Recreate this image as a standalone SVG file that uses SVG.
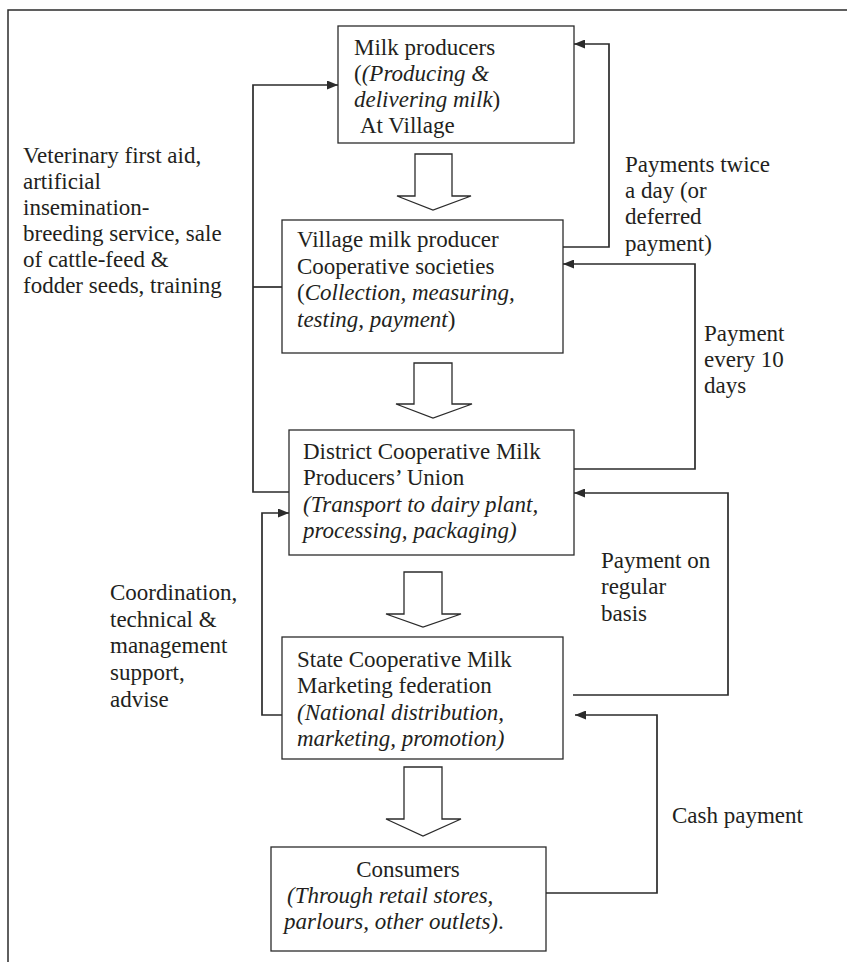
<svg xmlns="http://www.w3.org/2000/svg" width="847" height="962" viewBox="0 0 847 962" font-family="'Liberation Serif', 'DejaVu Serif', serif">
<defs>
<style>
text{font-family:'Liberation Serif','DejaVu Serif',serif;font-size:23px;fill:#231f20}
.it{font-style:italic}
.box{fill:#fff;stroke:#2b2b2b;stroke-width:1.3}
.big{fill:#fff;stroke:#2b2b2b;stroke-width:1.3;stroke-linejoin:miter}
.con{fill:none;stroke:#2b2b2b;stroke-width:1.7}
</style>
<marker id="ah" viewBox="0 0 11 9" refX="11" refY="4.5" markerWidth="11" markerHeight="9" orient="auto" markerUnits="userSpaceOnUse">
<path d="M0,0 L11,4.5 L0,9 Z" fill="#2b2b2b"/>
</marker>
</defs>
<rect width="847" height="962" fill="#fff"/>
<path d="M8,962 V10 H847" fill="none" stroke="#2b2b2b" stroke-width="1.5"/>

<g id="connectors">
<path class="con" d="M289,492 H253 V85 H338" marker-end="url(#ah)"/>
<path class="con" d="M253,287 H282"/>
<path class="con" d="M282,715 H262 V513 H289" marker-end="url(#ah)"/>
<path class="con" d="M563,247 H609 V44 H574" marker-end="url(#ah)"/>
<path class="con" d="M574,469 H695 V264 H563" marker-end="url(#ah)"/>
<path class="con" d="M573,695 H728 V493 H574" marker-end="url(#ah)"/>
<path class="con" d="M546,893 H657 V715 H575" marker-end="url(#ah)"/>
<path class="big" d="M415,154 H452 V196 H471 L433,210 L397,196 H415 Z"/>
<path class="big" d="M414,363 H452 V404 H472 L433,418 L396,404 H414 Z"/>
<path class="big" d="M404,572 H442 V614 H461 L423,627 L386,614 H404 Z"/>
<path class="big" d="M404,767 H442 V819 H461 L423,836 L386,819 H404 Z"/>
</g>

<g id="milk-producers">
<rect class="box" x="338" y="26" width="236" height="117"/>
<text x="354" y="55">Milk producers</text>
<text x="354" y="81">(<tspan class="it">(Producing &amp;</tspan></text>
<text x="354" y="107"><tspan class="it">delivering milk</tspan>)</text>
<text x="360" y="133">At Village</text>
</g>

<g id="village-society">
<rect class="box" x="282" y="220" width="281" height="133"/>
<text x="297" y="247">Village milk producer</text>
<text x="297" y="273.5">Cooperative societies</text>
<text x="297" y="300">(<tspan class="it">Collection, measuring,</tspan></text>
<text x="297" y="326.5"><tspan class="it">testing, payment</tspan>)</text>
</g>

<g id="district-union">
<rect class="box" x="289" y="430" width="285" height="125"/>
<text x="303" y="459">District Cooperative Milk</text>
<text x="303" y="485">Producers’ Union</text>
<text class="it" x="303" y="512">(Transport to dairy plant,</text>
<text class="it" x="303" y="538">processing, packaging)</text>
</g>

<g id="state-federation">
<rect class="box" x="282" y="637" width="281" height="122"/>
<text x="297" y="667">State Cooperative Milk</text>
<text x="297" y="693">Marketing federation</text>
<text class="it" x="297" y="720">(National distribution,</text>
<text class="it" x="297" y="746">marketing, promotion)</text>
</g>

<g id="consumers">
<rect class="box" x="271" y="847" width="275" height="104"/>
<text x="408" y="877" text-anchor="middle">Consumers</text>
<text class="it" x="287" y="903">(Through retail stores,</text>
<text x="284" y="929"><tspan class="it">parlours, other outlets)</tspan>.</text>
</g>

<g id="labels">
<text x="23" y="163">Veterinary first aid,</text>
<text x="23" y="188.5">artificial</text>
<text x="23" y="214.5">insemination-</text>
<text x="23" y="241">breeding service, sale</text>
<text x="23" y="267">of cattle-feed &amp;</text>
<text x="23" y="293">fodder seeds, training</text>
<text x="110" y="600">Coordination,</text>
<text x="110" y="626.5">technical &amp;</text>
<text x="110" y="653">management</text>
<text x="110" y="680">support,</text>
<text x="110" y="706.5">advise</text>
<text x="625" y="172">Payments twice</text>
<text x="625" y="198">a day (or</text>
<text x="625" y="224">deferred</text>
<text x="625" y="250.5">payment)</text>
<text x="704" y="341">Payment</text>
<text x="704" y="367">every 10</text>
<text x="704" y="393">days</text>
<text x="601" y="568">Payment on</text>
<text x="601" y="594">regular</text>
<text x="601" y="621">basis</text>
<text x="672" y="823">Cash payment</text>
</g>
</svg>
